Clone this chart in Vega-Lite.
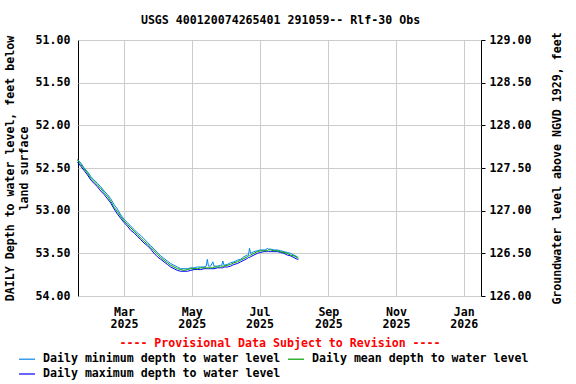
{
  "$schema": "https://vega.github.io/schema/vega-lite/v6.json",
  "width": 403,
  "height": 256,
  "autosize": {"type": "none"},
  "padding": {"left": 78, "top": 40, "right": 95, "bottom": 88},
  "title": {
    "text": "USGS 400120074265401 291059-- Rlf-30 Obs",
    "font": "DejaVu Sans Mono",
    "fontSize": 11.6,
    "fontWeight": "bold",
    "color": "black",
    "anchor": "middle",
    "frame": "group",
    "dx": 1,
    "offset": 5
  },
  "config": {
    "view": {"stroke": "black", "strokeWidth": 1},
    "font": "DejaVu Sans Mono",
    "axis": {
      "labelFont": "DejaVu Sans Mono",
      "labelFontSize": 11.6,
      "labelFontWeight": "bold",
      "labelColor": "black",
      "titleFont": "DejaVu Sans Mono",
      "titleFontSize": 11.6,
      "titleFontWeight": "bold",
      "titleColor": "black",
      "gridColor": "#cccccc",
      "gridWidth": 1,
      "gridOpacity": 1,
      "domain": false
    }
  },
  "data": {
    "values": [
      {"date": "2025-01-18", "min": 52.40, "mean": 52.41, "max": 52.43},
      {"date": "2025-01-21", "min": 52.44, "mean": 52.46, "max": 52.48},
      {"date": "2025-01-24", "min": 52.50, "mean": 52.51, "max": 52.53},
      {"date": "2025-01-27", "min": 52.54, "mean": 52.56, "max": 52.58},
      {"date": "2025-01-30", "min": 52.60, "mean": 52.62, "max": 52.64},
      {"date": "2025-02-02", "min": 52.64, "mean": 52.66, "max": 52.68},
      {"date": "2025-02-05", "min": 52.68, "mean": 52.70, "max": 52.72},
      {"date": "2025-02-08", "min": 52.72, "mean": 52.74, "max": 52.77},
      {"date": "2025-02-11", "min": 52.77, "mean": 52.79, "max": 52.81},
      {"date": "2025-02-14", "min": 52.81, "mean": 52.83, "max": 52.86},
      {"date": "2025-02-17", "min": 52.86, "mean": 52.89, "max": 52.91},
      {"date": "2025-02-20", "min": 52.93, "mean": 52.96, "max": 52.98},
      {"date": "2025-02-23", "min": 52.98, "mean": 53.01, "max": 53.04},
      {"date": "2025-02-26", "min": 53.05, "mean": 53.07, "max": 53.09},
      {"date": "2025-03-01", "min": 53.10, "mean": 53.12, "max": 53.14},
      {"date": "2025-03-04", "min": 53.14, "mean": 53.16, "max": 53.18},
      {"date": "2025-03-07", "min": 53.18, "mean": 53.20, "max": 53.23},
      {"date": "2025-03-10", "min": 53.22, "mean": 53.24, "max": 53.26},
      {"date": "2025-03-13", "min": 53.26, "mean": 53.28, "max": 53.30},
      {"date": "2025-03-16", "min": 53.29, "mean": 53.32, "max": 53.34},
      {"date": "2025-03-19", "min": 53.33, "mean": 53.36, "max": 53.38},
      {"date": "2025-03-22", "min": 53.37, "mean": 53.39, "max": 53.41},
      {"date": "2025-03-25", "min": 53.41, "mean": 53.43, "max": 53.45},
      {"date": "2025-03-28", "min": 53.45, "mean": 53.47, "max": 53.50},
      {"date": "2025-03-31", "min": 53.49, "mean": 53.51, "max": 53.54},
      {"date": "2025-04-03", "min": 53.53, "mean": 53.55, "max": 53.57},
      {"date": "2025-04-06", "min": 53.56, "mean": 53.58, "max": 53.60},
      {"date": "2025-04-09", "min": 53.59, "mean": 53.61, "max": 53.63},
      {"date": "2025-04-12", "min": 53.62, "mean": 53.64, "max": 53.66},
      {"date": "2025-04-15", "min": 53.64, "mean": 53.66, "max": 53.68},
      {"date": "2025-04-18", "min": 53.66, "mean": 53.68, "max": 53.70},
      {"date": "2025-04-21", "min": 53.68, "mean": 53.69, "max": 53.71},
      {"date": "2025-04-24", "min": 53.68, "mean": 53.70, "max": 53.71},
      {"date": "2025-04-27", "min": 53.68, "mean": 53.69, "max": 53.71},
      {"date": "2025-04-30", "min": 53.67, "mean": 53.68, "max": 53.70},
      {"date": "2025-05-03", "min": 53.67, "mean": 53.68, "max": 53.69},
      {"date": "2025-05-06", "min": 53.66, "mean": 53.68, "max": 53.69},
      {"date": "2025-05-09", "min": 53.66, "mean": 53.67, "max": 53.69},
      {"date": "2025-05-12", "min": 53.66, "mean": 53.67, "max": 53.68},
      {"date": "2025-05-14", "min": 53.65, "mean": 53.67, "max": 53.68},
      {"date": "2025-05-15", "min": 53.57, "mean": 53.67, "max": 53.68},
      {"date": "2025-05-16", "min": 53.65, "mean": 53.67, "max": 53.68},
      {"date": "2025-05-18", "min": 53.65, "mean": 53.67, "max": 53.68},
      {"date": "2025-05-20", "min": 53.60, "mean": 53.67, "max": 53.68},
      {"date": "2025-05-21", "min": 53.65, "mean": 53.66, "max": 53.68},
      {"date": "2025-05-24", "min": 53.65, "mean": 53.66, "max": 53.67},
      {"date": "2025-05-27", "min": 53.64, "mean": 53.66, "max": 53.67},
      {"date": "2025-05-28", "min": 53.64, "mean": 53.65, "max": 53.67},
      {"date": "2025-05-29", "min": 53.59, "mean": 53.65, "max": 53.67},
      {"date": "2025-05-30", "min": 53.64, "mean": 53.65, "max": 53.66},
      {"date": "2025-06-02", "min": 53.63, "mean": 53.64, "max": 53.66},
      {"date": "2025-06-05", "min": 53.61, "mean": 53.63, "max": 53.65},
      {"date": "2025-06-08", "min": 53.60, "mean": 53.61, "max": 53.63},
      {"date": "2025-06-11", "min": 53.58, "mean": 53.60, "max": 53.62},
      {"date": "2025-06-14", "min": 53.57, "mean": 53.58, "max": 53.60},
      {"date": "2025-06-17", "min": 53.54, "mean": 53.56, "max": 53.58},
      {"date": "2025-06-20", "min": 53.52, "mean": 53.54, "max": 53.56},
      {"date": "2025-06-21", "min": 53.52, "mean": 53.53, "max": 53.55},
      {"date": "2025-06-22", "min": 53.44, "mean": 53.53, "max": 53.55},
      {"date": "2025-06-23", "min": 53.50, "mean": 53.52, "max": 53.54},
      {"date": "2025-06-26", "min": 53.48, "mean": 53.50, "max": 53.52},
      {"date": "2025-06-29", "min": 53.47, "mean": 53.48, "max": 53.50},
      {"date": "2025-07-02", "min": 53.46, "mean": 53.47, "max": 53.49},
      {"date": "2025-07-05", "min": 53.46, "mean": 53.47, "max": 53.48},
      {"date": "2025-07-07", "min": 53.46, "mean": 53.47, "max": 53.48},
      {"date": "2025-07-08", "min": 53.44, "mean": 53.47, "max": 53.48},
      {"date": "2025-07-09", "min": 53.45, "mean": 53.46, "max": 53.48},
      {"date": "2025-07-11", "min": 53.45, "mean": 53.46, "max": 53.48},
      {"date": "2025-07-14", "min": 53.46, "mean": 53.47, "max": 53.48},
      {"date": "2025-07-17", "min": 53.46, "mean": 53.47, "max": 53.48},
      {"date": "2025-07-20", "min": 53.47, "mean": 53.48, "max": 53.49},
      {"date": "2025-07-23", "min": 53.48, "mean": 53.49, "max": 53.50},
      {"date": "2025-07-26", "min": 53.49, "mean": 53.50, "max": 53.52},
      {"date": "2025-07-29", "min": 53.50, "mean": 53.52, "max": 53.53},
      {"date": "2025-08-01", "min": 53.52, "mean": 53.53, "max": 53.55},
      {"date": "2025-08-04", "min": 53.54, "mean": 53.55, "max": 53.57},
      {"date": "2025-08-05", "min": 53.55, "mean": 53.56, "max": 53.57}
    ]
  },
  "encoding": {
    "x": {
      "field": "date",
      "type": "temporal",
      "scale": {"type": "utc", "domain": ["2025-01-18T12:00:00Z", "2026-01-16T12:00:00Z"]},
      "axis": {
        "title": "---- Provisional Data Subject to Revision ----",
        "titleColor": "#ff0000",
        "titlePadding": 7,
        "tickCount": {"interval": "month", "step": 2},
        "labelExpr": "[utcFormat(datum.value, '%b'), utcFormat(datum.value, '%Y')]",
        "labelLineHeight": 12.5,
        "labelPadding": 10,
        "ticks": false,
        "grid": true
      }
    }
  },
  "layer": [
    {
      "mark": {"type": "line", "strokeWidth": 1, "interpolate": "linear"},
      "encoding": {
        "y": {
          "field": "max",
          "type": "quantitative",
          "scale": {"domain": [51, 54], "reverse": true, "nice": false, "zero": false},
          "axis": {
            "orient": "left",
            "values": [51, 51.5, 52, 52.5, 53, 53.5, 54],
            "format": ".2f",
            "title": ["DAILY Depth to water level, feet below", "land surface"],
            "titleLineHeight": 14,
            "titlePadding": 6,
            "labelPadding": 8,
            "ticks": false,
            "grid": true
          }
        },
        "color": {
          "datum": "max",
          "type": "nominal",
          "scale": {"domain": ["min", "mean", "max"], "range": ["#0a86e6", "#00a000", "#0000ff"]},
          "legend": {
            "orient": "none",
            "legendX": -60,
            "legendY": 310,
            "direction": "horizontal",
            "columns": 2,
            "title": null,
            "symbolType": "stroke",
            "symbolSize": 256,
            "symbolStrokeWidth": 1.2,
            "labelFont": "DejaVu Sans Mono",
            "labelFontSize": 11.6,
            "labelFontWeight": "bold",
            "labelColor": "black",
            "labelOffset": 7,
            "columnPadding": 4,
            "rowPadding": 0,
            "labelLimit": 400,
            "labelExpr": "datum.value == 'min' ? 'Daily minimum depth to water level' : datum.value == 'mean' ? 'Daily mean depth to water level' : 'Daily maximum depth to water level'"
          }
        }
      }
    },
    {
      "mark": {"type": "line", "strokeWidth": 1},
      "encoding": {
        "y": {"field": "min", "type": "quantitative", "axis": null},
        "color": {"datum": "min", "type": "nominal"}
      }
    },
    {
      "mark": {"type": "line", "strokeWidth": 1},
      "encoding": {
        "y": {"field": "mean", "type": "quantitative", "axis": null},
        "color": {"datum": "mean", "type": "nominal"}
      }
    },
    {
      "mark": {"type": "line", "strokeOpacity": 0},
      "encoding": {
        "y": {
          "field": "mean",
          "type": "quantitative",
          "axis": {
            "orient": "right",
            "values": [51, 51.5, 52, 52.5, 53, 53.5, 54],
            "labelExpr": "format(180 - datum.value, '.2f')",
            "title": "Groundwater level above NGVD 1929, feet",
            "titleAngle": -90,
            "titleBaseline": "bottom",
            "titlePadding": 32,
            "labelPadding": 4,
            "ticks": true,
            "tickSize": 4,
            "tickColor": "black",
            "grid": false
          }
        }
      }
    }
  ],
  "resolve": {"axis": {"y": "independent"}}
}
